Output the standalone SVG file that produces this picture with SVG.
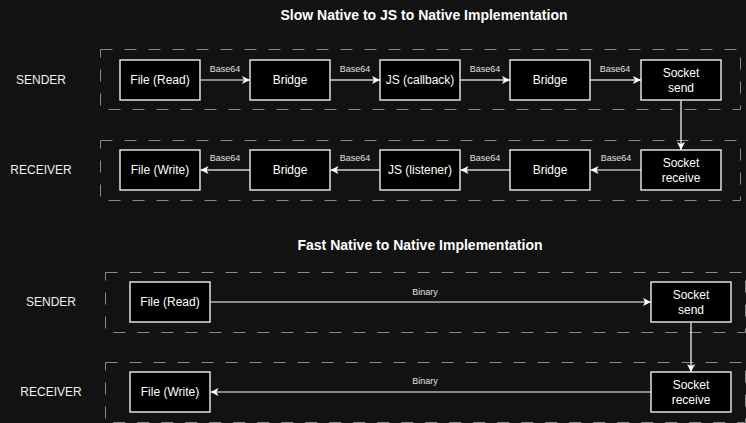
<svg xmlns="http://www.w3.org/2000/svg" width="746" height="423" viewBox="0 0 746 423">
<defs>
<marker id="ah" markerUnits="userSpaceOnUse" markerWidth="10" markerHeight="10" refX="8" refY="4" orient="auto">
<path d="M0,0 L8,4 L0,8 L2,4 Z" fill="#ffffff"/>
</marker>
<style>
text{font-family:"Liberation Sans",Arial,Helvetica,sans-serif;}
.title{font-size:14px;font-weight:bold;fill:#ffffff;text-anchor:middle;}
.lane{fill:none;stroke:#8a8a8a;stroke-width:1;stroke-dasharray:12 12;}
.role{font-size:12px;fill:#f0f0f0;text-anchor:middle;}
.node rect{fill:#000000;stroke:#ffffff;stroke-width:1.3;}
.node text{font-size:12px;fill:#ffffff;text-anchor:middle;}
.elabel{font-size:9px;fill:#e0e0e0;text-anchor:middle;}
.ew{stroke:#ffffff;stroke-width:1.2;fill:none;marker-end:url(#ah);}
.eg{stroke:#a0a0a0;stroke-width:2;fill:none;marker-end:url(#ah);}
</style>
</defs>
<rect x="0" y="0" width="746" height="423" fill="#121212"/>

<text class="title" x="424" y="20">Slow Native to JS to Native Implementation</text>
<text class="title" x="420" y="250">Fast Native to Native Implementation</text>

<g id="lanes">
<rect class="lane" x="100.5" y="49.5" width="640" height="60"/>
<rect class="lane" x="100.5" y="140.5" width="640" height="60"/>
<rect class="lane" x="105.5" y="272.5" width="640" height="60"/>
<rect class="lane" x="105.5" y="362.5" width="640" height="60"/>
</g>

<text class="role" x="41" y="84">SENDER</text>
<text class="role" x="41" y="174">RECEIVER</text>
<text class="role" x="51" y="306">SENDER</text>
<text class="role" x="51" y="396">RECEIVER</text>

<g id="connectors">
<line class="ew" x1="200.5" y1="80" x2="250" y2="80"/>
<line class="eg" x1="330.5" y1="80" x2="380" y2="80"/>
<line class="eg" x1="460.5" y1="80" x2="510" y2="80"/>
<line class="eg" x1="590.5" y1="80" x2="641" y2="80"/>
<line class="ew" x1="681" y1="100.5" x2="681" y2="150"/>
<line class="ew" x1="641" y1="170" x2="590.5" y2="170"/>
<line class="eg" x1="510" y1="170" x2="460.5" y2="170"/>
<line class="eg" x1="380" y1="170" x2="330.5" y2="170"/>
<line class="eg" x1="250" y1="170" x2="200.5" y2="170"/>
<line class="ew" x1="210.5" y1="302" x2="651" y2="302"/>
<line class="ew" x1="691" y1="322.5" x2="691" y2="372"/>
<line class="ew" x1="651" y1="392" x2="210.5" y2="392"/>
<text class="elabel" x="225" y="72">Base64</text>
<text class="elabel" x="355" y="72">Base64</text>
<text class="elabel" x="485" y="72">Base64</text>
<text class="elabel" x="615" y="72">Base64</text>
<text class="elabel" x="616" y="161">Base64</text>
<text class="elabel" x="485" y="161">Base64</text>
<text class="elabel" x="355" y="161">Base64</text>
<text class="elabel" x="225" y="161">Base64</text>
<text class="elabel" x="425" y="295">Binary</text>
<text class="elabel" x="425" y="384">Binary</text>
</g>

<g id="s1-file-read" class="node"><rect x="120" y="60" width="80" height="40"/><text x="160" y="84.3">File (Read)</text></g>
<g id="s1-bridge1" class="node"><rect x="250" y="60" width="80" height="40"/><text x="290" y="84.3">Bridge</text></g>
<g id="s1-js-callback" class="node"><rect x="380" y="60" width="80" height="40"/><text x="420" y="84.3">JS (callback)</text></g>
<g id="s1-bridge2" class="node"><rect x="510" y="60" width="80" height="40"/><text x="550" y="84.3">Bridge</text></g>
<g id="s1-socket-send" class="node"><rect x="641" y="60" width="80" height="40"/><text x="681" y="77.1">Socket</text><text x="681" y="91.5">send</text></g>

<g id="r1-file-write" class="node"><rect x="120" y="150" width="80" height="40"/><text x="160" y="174.3">File (Write)</text></g>
<g id="r1-bridge1" class="node"><rect x="250" y="150" width="80" height="40"/><text x="290" y="174.3">Bridge</text></g>
<g id="r1-js-listener" class="node"><rect x="380" y="150" width="80" height="40"/><text x="420" y="174.3">JS (listener)</text></g>
<g id="r1-bridge2" class="node"><rect x="510" y="150" width="80" height="40"/><text x="550" y="174.3">Bridge</text></g>
<g id="r1-socket-receive" class="node"><rect x="641" y="150" width="80" height="40"/><text x="681" y="167.1">Socket</text><text x="681" y="181.5">receive</text></g>

<g id="s2-file-read" class="node"><rect x="130" y="282" width="80" height="40"/><text x="170" y="306.3">File (Read)</text></g>
<g id="s2-socket-send" class="node"><rect x="651" y="282" width="80" height="40"/><text x="691" y="299.1">Socket</text><text x="691" y="313.5">send</text></g>
<g id="r2-file-write" class="node"><rect x="130" y="372" width="80" height="40"/><text x="170" y="396.3">File (Write)</text></g>
<g id="r2-socket-receive" class="node"><rect x="651" y="372" width="80" height="40"/><text x="691" y="389.1">Socket</text><text x="691" y="403.5">receive</text></g>
</svg>
